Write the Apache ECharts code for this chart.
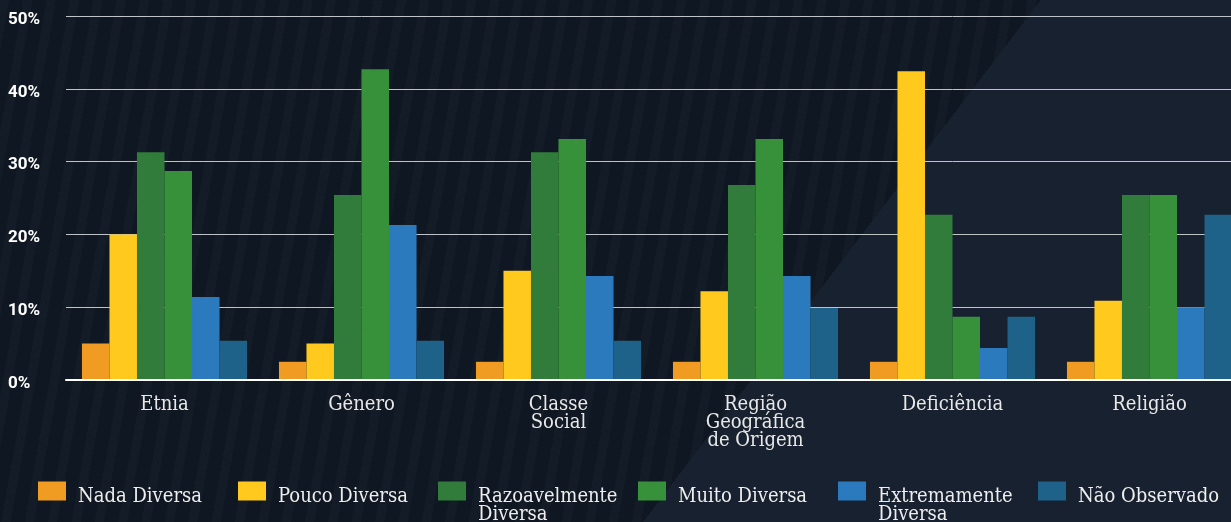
<!DOCTYPE html>
<html>
<head>
<meta charset="utf-8">
<script src="https://cdn.jsdelivr.net/npm/echarts@6/dist/echarts.min.js"></script>
<style>
  html, body {
    margin: 0;
    padding: 0;
  }
  body {
    width: 1231px;
    height: 522px;
    overflow: hidden;
    background:
      linear-gradient(127.3deg, transparent 63.9%, #17212f 63.9%),
      repeating-linear-gradient(100deg, rgba(255, 255, 255, 0.02) 0 9px, transparent 9px 23px),
      #0f1723;
  }
  /* a área do gráfico passa um pouco da borda direita, como no original */
  #chart {
    width: 1248px;
    height: 522px;
  }
</style>
</head>
<body>
<div id="chart"></div>
<script>
// categorias (eixo x)
const categories = ['Etnia', 'Gênero', 'Classe\nSocial', 'Região\nGeográfica\nde Origem', 'Deficiência', 'Religião']

// valores em %
const nadaDiversa = [5, 2.5, 2.5, 2.5, 2.5, 2.5]
const poucoDiversa = [20, 5, 15, 12.2, 42.4, 10.9]
const razoavelmenteDiversa = [31.3, 25.4, 31.3, 26.8, 22.7, 25.4]
const muitoDiversa = [28.7, 42.7, 33.1, 33.1, 8.7, 25.4]
const extremamenteDiversa = [11.4, 21.3, 14.3, 14.3, 4.4, 10.0]
const naoObservado = [5.4, 5.4, 5.4, 9.9, 8.7, 22.7]

const seriesNames = ['Nada Diversa', 'Pouco Diversa', 'Razoavelmente Diversa', 'Muito Diversa', 'Extremamente Diversa', 'Não Observado']
const wrappedNames = ['Razoavelmente Diversa', 'Extremamente Diversa']
const colors = ['#f09c22', '#ffc91e', '#317c3a', '#37913a', '#2c7abe', '#1e6289']

const serif = '"DejaVu Serif Condensed", "DejaVu Serif", serif'
const values = [nadaDiversa, poucoDiversa, razoavelmenteDiversa, muitoDiversa, extremamenteDiversa, naoObservado]

const option = {
  animation: false,
  backgroundColor: 'transparent',
  color: colors,
  legend: {
    left: 38,
    top: 458,
    padding: 0,
    itemWidth: 28,
    itemHeight: 19,
    itemGap: 10,
    icon: 'rect',
    textStyle: {
      color: '#eeeeee',
      fontFamily: serif,
      fontSize: 20,
      lineHeight: 18,
      width: 150,
      padding: [12, 0, 0, 7],
      // rich => o padding vertical passa a deslocar o texto
      rich: { a: {} }
    },
    formatter: name => wrappedNames.indexOf(name) > -1 ? name.replace(' ', '\n') : name,
    data: seriesNames.map(name => {
      if (wrappedNames.indexOf(name) > -1) {
        return { name: name, textStyle: { padding: [30, 0, 0, 7] } }
      }
      return { name: name }
    })
  },
  grid: {
    left: 66,
    top: 16,
    right: 0,
    height: 364
  },
  xAxis: {
    type: 'category',
    z: 3,
    data: categories,
    axisLine: { lineStyle: { color: '#ffffff', width: 2 } },
    axisTick: { show: false },
    axisLabel: {
      color: '#e8e8e8',
      fontFamily: serif,
      fontSize: 20,
      lineHeight: 18,
      margin: 16,
      interval: 0
    }
  },
  yAxis: {
    type: 'value',
    min: 0,
    max: 50,
    interval: 10,
    axisLine: { show: false },
    axisTick: { show: false },
    axisLabel: {
      formatter: '{value}%',
      color: '#ffffff',
      fontFamily: 'Roboto',
      fontWeight: 'bold',
      fontSize: 17,
      align: 'left',
      margin: 58,
      padding: [7, 0, 0, 0],
      rich: { a: {} }
    },
    splitLine: { lineStyle: { color: '#bfc2c6', width: 1 } }
  },
  series: seriesNames.map((name, i) => ({
    name: name,
    type: 'bar',
    data: values[i],
    barGap: '0%',
    barCategoryGap: '16.2%',
    itemStyle: { borderWidth: 0 }
  }))
}

const myChart = echarts.init(document.getElementById('chart'))
myChart.setOption(option)
</script>
</body>
</html>
